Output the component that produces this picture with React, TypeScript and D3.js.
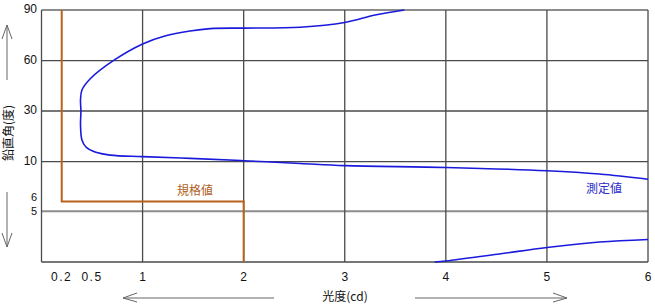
import React from "react";
import * as d3 from "d3";

const xTicks = [0.2, 0.5, 1, 2, 3, 4, 5, 6];
const xGrid = [1, 2, 3, 4, 5, 6];
const yTicks = [90, 60, 30, 10, 6, 5];
const yGridDark = [60, 30, 10, 0];
const yGridLight = [90, 5];

// Standard (規格値) step line: [cd, deg]
const standardLine: [number, number][] = [
  [0.2, 90],
  [0.2, 6],
  [2, 6],
  [2, 0],
];

// Measured (測定値) upper branch: [cd, deg]
const measuredUpper: [number, number][] = [
  [3.59, 90],
  [3.3, 87.0],
  [3.0, 82.6],
  [2.56, 79.8],
  [2.0, 79.3],
  [1.67, 79.0],
  [1.47, 77.6],
  [1.22, 74.6],
  [1.0, 69.9],
  [0.71, 60],
  [0.48, 49.1],
  [0.4, 42.5],
  [0.386, 36.6],
  [0.39, 30],
  [0.386, 24.5],
  [0.4, 18.6],
  [0.44, 15.8],
  [0.53, 13.8],
  [0.68, 12.6],
  [1.0, 12.0],
  [1.47, 11.3],
  [2.0, 10.4],
  [2.56, 9.82],
  [3.0, 9.6],
  [4.0, 9.42],
  [5.0, 9.09],
  [5.52, 8.76],
  [6.0, 8.23],
];

// Measured lower branch
const measuredLower: [number, number][] = [
  [3.89, 0],
  [4.0, 0.1],
  [4.53, 0.79],
  [5.0, 1.43],
  [5.52, 1.97],
  [6.0, 2.22],
];

const W = 655;
const H = 306;

export default function App() {
  const x = d3.scaleLinear().domain([0, 6]).range([41.5, 648]);
  const y = d3
    .scaleLinear()
    .domain([0, 5, 10, 30, 60, 90])
    .range([262, 211.3, 161.7, 111, 60.7, 10]);

  const line = d3
    .line<[number, number]>()
    .x((d) => x(d[0]))
    .y((d) => y(d[1]));
  const curve = d3
    .line<[number, number]>()
    .x((d) => x(d[0]))
    .y((d) => y(d[1]))
    .curve(d3.curveCatmullRom.alpha(0.5));

  const font = "'Noto Sans CJK JP', 'DejaVu Sans', sans-serif";
  const numFont = "'Liberation Sans', 'DejaVu Sans', sans-serif";
  const grayArrow = "#666";
  const yOffset = (v: number) => (v === 6 ? -3 : v === 5 ? 1 : 0);

  return (
    <svg
      width={W}
      height={H}
      style={{ position: "absolute", left: 0, top: 0, background: "#fff" }}
      fontFamily={font}
    >
      <rect x={0} y={0} width={W} height={H} fill="#fff" />
      {/* light horizontal grid */}
      {yGridLight.map((v) => (
        <line
          key={"hl" + v}
          x1={x(0)}
          x2={x(6)}
          y1={y(v)}
          y2={y(v)}
          stroke="#8c8c8c"
          strokeWidth={2}
        />
      ))}
      {/* dark horizontal grid */}
      {yGridDark.map((v) => (
        <line
          key={"hd" + v}
          x1={x(0)}
          x2={x(6)}
          y1={y(v)}
          y2={y(v)}
          stroke="#4a4a4a"
          strokeWidth={1.3}
        />
      ))}
      {/* vertical grid */}
      {[0, ...xGrid].map((v) => (
        <line
          key={"v" + v}
          x1={x(v)}
          x2={x(v)}
          y1={y(90)}
          y2={y(0)}
          stroke="#4a4a4a"
          strokeWidth={1.3}
        />
      ))}

      {/* standard line */}
      <path
        d={line(standardLine) || ""}
        fill="none"
        stroke="#b8621b"
        strokeWidth={2}
      />
      {/* measured */}
      <path
        d={curve(measuredUpper) || ""}
        fill="none"
        stroke="#1a1adc"
        strokeWidth={1.6}
      />
      <path
        d={curve(measuredLower) || ""}
        fill="none"
        stroke="#1a1adc"
        strokeWidth={1.6}
      />

      {/* labels */}
      <text
        x={195}
        y={192}
        fontSize={12}
        fill="#b0601c"
        textAnchor="middle"
        dominantBaseline="middle"
      >
        規格値
      </text>
      <text
        x={604}
        y={190}
        fontSize={12}
        fill="#2a2acc"
        textAnchor="middle"
        dominantBaseline="middle"
      >
        測定値
      </text>

      {/* y tick labels */}
      {yTicks.map((v) => (
        <text
          key={"yt" + v}
          x={37}
          y={y(v) + yOffset(v)}
          fontSize={v === 6 || v === 5 ? 11 : 12}
          fontFamily={numFont}
          fill="#111"
          textAnchor="end"
          dominantBaseline="middle"
        >
          {v}
        </text>
      ))}
      {/* x tick labels */}
      {xTicks.map((v) => (
        <text
          key={"xt" + v}
          x={x(v)}
          y={278}
          fontSize={12}
          fontFamily={numFont}
          fill="#111"
          textAnchor="middle"
          dominantBaseline="middle"
          letterSpacing={v < 1 ? 1.5 : 0}
        >
          {v < 1 ? String(v) : v}
        </text>
      ))}

      {/* x axis title and arrows */}
      <text
        x={345}
        y={298}
        fontSize={12}
        fill="#111"
        textAnchor="middle"
        dominantBaseline="middle"
      >
        光度(cd)
      </text>
      <line x1={123} x2={274} y1={298} y2={298} stroke={grayArrow} strokeWidth={1} />
      <polyline
        points="137,293 123,298 137,302"
        fill="none"
        stroke={grayArrow}
        strokeWidth={1}
      />
      <line x1={415} x2={567} y1={298} y2={298} stroke={grayArrow} strokeWidth={1} />
      <polyline
        points="553,293 567,298 553,302"
        fill="none"
        stroke={grayArrow}
        strokeWidth={1}
      />

      {/* y axis title and arrows */}
      <text
        transform="translate(10,133) rotate(-90)"
        fontSize={12}
        fill="#111"
        textAnchor="middle"
        dominantBaseline="middle"
      >
        鉛直角(度)
      </text>
      <line x1={7} x2={7} y1={25} y2={80} stroke={grayArrow} strokeWidth={1} />
      <polyline
        points="2,39 7,25 12,39"
        fill="none"
        stroke={grayArrow}
        strokeWidth={1}
      />
      <line x1={7} x2={7} y1={192} y2={247} stroke={grayArrow} strokeWidth={1} />
      <polyline
        points="2,233 7,247 12,233"
        fill="none"
        stroke={grayArrow}
        strokeWidth={1}
      />
    </svg>
  );
}
